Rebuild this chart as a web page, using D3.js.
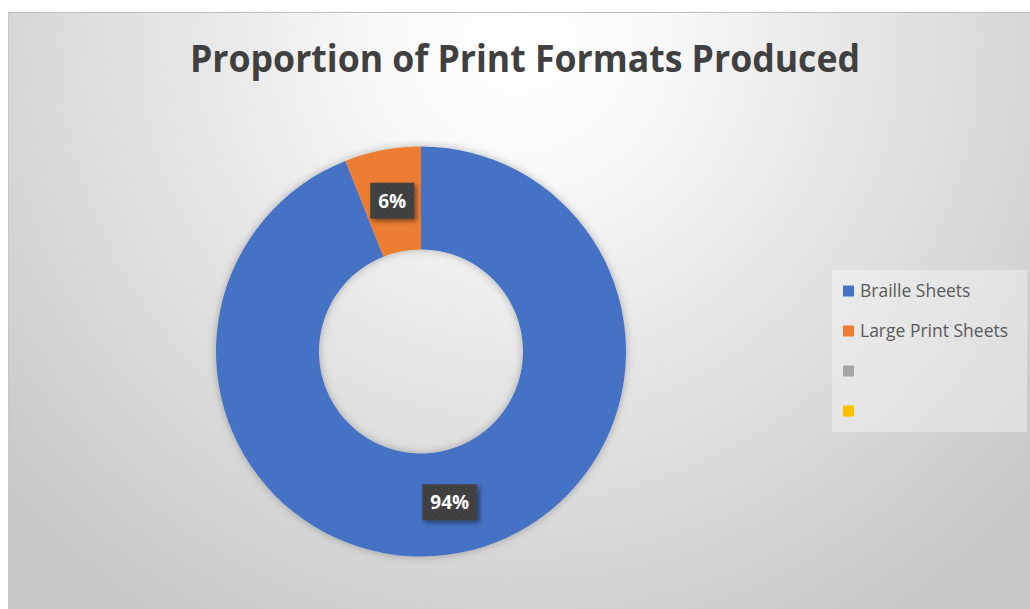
<!DOCTYPE html>
<html><head><meta charset="utf-8">
<script src="https://cdn.jsdelivr.net/npm/d3@7"></script>
<style>body{margin:0;background:#fff;}svg{display:block;}</style>
</head><body>
<svg id="c" width="1030" height="609"></svg>
<script>
const title = "Proportion of Print Formats Produced";
const categories = ["Braille Sheets", "Large Print Sheets", "", ""];
const values = [94, 6, 0, 0];
const colors = ["#4472C4", "#ED7D31", "#A5A5A5", "#FFC000"];

const svg = d3.select("#c");
const defs = svg.append("defs");

const rg = defs.append("radialGradient").attr("id","bg")
  .attr("gradientUnits","userSpaceOnUse").attr("cx",520).attr("cy",40).attr("r",700);
[[0,"#ffffff"],[0.2,"#f9f9f9"],[0.45,"#e8e8e8"],[0.75,"#d6d6d6"],[1,"#c6c6c6"]]
  .forEach(([o,c])=>rg.append("stop").attr("offset",o).attr("stop-color",c));

const sh = defs.append("filter").attr("id","dsh").attr("x","-20%").attr("y","-20%").attr("width","140%").attr("height","140%");
sh.append("feDropShadow").attr("dx",0).attr("dy",0).attr("stdDeviation",4).attr("flood-color","#000").attr("flood-opacity",0.28);
const lsh = defs.append("filter").attr("id","lsh").attr("x","-30%").attr("y","-30%").attr("width","160%").attr("height","160%");
lsh.append("feDropShadow").attr("dx",2.5).attr("dy",2.5).attr("stdDeviation",2).attr("flood-color","#000").attr("flood-opacity",0.45);
const pat = defs.append("pattern").attr("id","dots").attr("width",6).attr("height",6).attr("patternUnits","userSpaceOnUse");
pat.append("rect").attr("width",6).attr("height",6).attr("fill","#3f3f3f");
pat.append("rect").attr("x",1).attr("y",1).attr("width",1.2).attr("height",1.2).attr("fill","#4e4e4e");
pat.append("rect").attr("x",4).attr("y",4).attr("width",1.2).attr("height",1.2).attr("fill","#4e4e4e");

// chart area
svg.append("rect").attr("x",8).attr("y",12).attr("width",1030).attr("height",600).attr("fill","url(#bg)");
svg.append("line").attr("x1",8).attr("x2",1030).attr("y1",12.5).attr("y2",12.5).attr("stroke","#bdbdbd").attr("stroke-width",1.2);
svg.append("line").attr("x1",8.5).attr("x2",8.5).attr("y1",12).attr("y2",609).attr("stroke","#c8c8c8").attr("stroke-width",1);

// title
const t = svg.append("text").attr("x",525).attr("y",72).attr("text-anchor","middle")
  .attr("font-family","Open Sans").attr("font-weight","bold").attr("font-size",37)
  .attr("fill","#404040").text(title)
  .attr("textLength",670).attr("lengthAdjust","spacingAndGlyphs");

// donut
const cx = 421, cy = 351.5, rOut = 205, rIn = 102;
const pie = d3.pie().sort(null).value(d=>d)(values);
const arc = d3.arc().innerRadius(rIn).outerRadius(rOut);
const g = svg.append("g").attr("transform",`translate(${cx},${cy})`);
g.append("g").attr("filter","url(#dsh)").selectAll("path").data(pie).join("path")
  .attr("d",arc).attr("fill",(d,i)=>colors[i]);

// labels
const fmt = d3.format(".0%");
const total = d3.sum(values);
pie.forEach((d,i)=>{
  if(!d.value) return;
  const [x,y] = arc.centroid(d);
  const txt = fmt(d.value/total);
  const lg = g.append("g").attr("transform",`translate(${x},${y})`);
  const tt = lg.append("text").attr("text-anchor","middle").attr("dy","0.36em")
    .attr("font-family","Open Sans").attr("font-weight","bold").attr("font-size",19)
    .attr("fill","#ffffff").text(txt);
  const w = tt.node().getComputedTextLength()+16, h = 36;
  lg.insert("rect","text").attr("x",-w/2).attr("y",-h/2).attr("width",w).attr("height",h)
    .attr("fill","url(#dots)").attr("filter","url(#lsh)");
});

// legend
const lgd = svg.append("g");
lgd.append("rect").attr("x",832).attr("y",270).attr("width",195).attr("height",162)
  .attr("fill","#ffffff").attr("fill-opacity",0.35);
const y0 = d3.scaleBand().domain(d3.range(categories.length)).range([271,431]);
categories.forEach((c,i)=>{
  const yc = y0(i)+y0.bandwidth()/2;
  lgd.append("rect").attr("x",843).attr("y",yc-5.5).attr("width",11).attr("height",11).attr("fill",colors[i]);
  lgd.append("text").attr("x",860).attr("y",yc).attr("dy","0.35em")
    .attr("font-family","Open Sans").attr("font-size",17.5).attr("fill","#595959").text(c);
});
</script>
</body></html>
